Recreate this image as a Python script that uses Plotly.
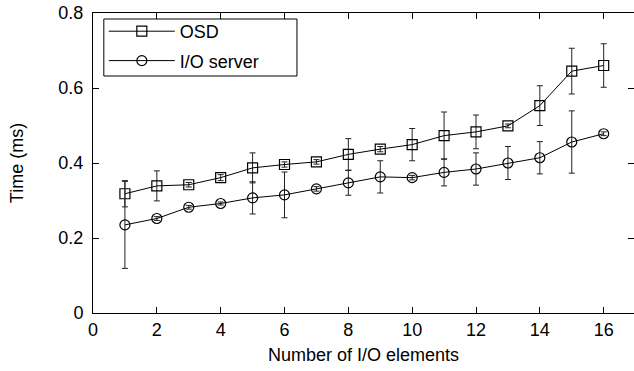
import plotly.graph_objects as go

n_elements = list(range(1, 17))
osd_time = [0.318, 0.339, 0.342, 0.361, 0.387, 0.396, 0.403, 0.423,
            0.437, 0.449, 0.473, 0.483, 0.499, 0.553, 0.645, 0.660]
osd_err = [0.035, 0.040, 0.006, 0.008, 0.040, 0.007, 0.006, 0.042,
           0.007, 0.043, 0.063, 0.045, 0.005, 0.053, 0.061, 0.058]
io_time = [0.235, 0.252, 0.282, 0.292, 0.307, 0.315, 0.331, 0.347,
           0.363, 0.361, 0.375, 0.384, 0.400, 0.414, 0.456, 0.478]
io_err = [0.116, 0.005, 0.005, 0.004, 0.043, 0.061, 0.006, 0.033,
          0.043, 0.006, 0.036, 0.043, 0.044, 0.043, 0.083, 0.005]
x_ticks = [0, 2, 4, 6, 8, 10, 12, 14, 16]
y_ticks = [0, 0.2, 0.4, 0.6, 0.8]

FONT = "Liberation Sans, Arial, Helvetica, sans-serif"
FS = 18

fig = go.Figure()
fig.add_trace(go.Scatter(
    x=n_elements, y=osd_time, name="OSD", mode="lines+markers", legendgroup="a",
    line=dict(color="black", width=1),
    marker=dict(symbol="square-open", size=10, color="black", line=dict(width=1.2)),
    error_y=dict(type="data", array=osd_err, visible=True, color="#222", thickness=1, width=3),
))
fig.add_trace(go.Scatter(
    x=n_elements, y=io_time, name="I/O server", mode="lines+markers", legendgroup="b",
    line=dict(color="black", width=1),
    marker=dict(symbol="circle-open", size=10, color="black", line=dict(width=1.2)),
    error_y=dict(type="data", array=io_err, visible=True, color="#222", thickness=1, width=3),
))
# invisible trace to carry right-side mirrored ticks (no border line on the right)
fig.add_trace(go.Scatter(x=[None], y=[None], yaxis="y2", showlegend=False, hoverinfo="skip"))

fig.update_layout(
    width=634, height=371,
    margin=dict(l=93, r=0, t=13, b=58),
    paper_bgcolor="white", plot_bgcolor="white",
    font=dict(family=FONT, size=FS, color="black"),
    xaxis=dict(
        range=[0, 16.95], tickvals=x_ticks, ticktext=[str(v) for v in x_ticks],
        ticks="inside", ticklen=6, tickcolor="black", tickwidth=1,
        showline=True, linecolor="black", linewidth=1, mirror="ticks",
        showgrid=False, zeroline=False,
        title=dict(text="Number of I/O elements", font=dict(size=FS), standoff=9),
    ),
    yaxis=dict(
        range=[0, 0.8], tickvals=y_ticks, ticktext=["0", "0.2", "0.4", "0.6", "0.8"],
        ticks="inside", ticklen=6, tickcolor="black", tickwidth=1,
        showline=True, linecolor="black", linewidth=1, mirror=False,
        showgrid=False, zeroline=False, ticklabelstandoff=5,
        title=dict(text="Time (ms)", font=dict(size=FS), standoff=30),
    ),
    yaxis2=dict(
        overlaying="y", side="right", matches="y", range=[0, 0.8], tickvals=y_ticks,
        ticks="inside", ticklen=6, tickcolor="black", tickwidth=1,
        showticklabels=False, showline=False, showgrid=False, zeroline=False,
    ),
    legend=dict(
        x=0.02, y=1.0, xanchor="left", yanchor="top",
        borderwidth=0, bgcolor="rgba(0,0,0,0)",
        font=dict(family=FONT, size=FS), itemwidth=66, tracegroupgap=3,
    ),
    shapes=[dict(
        type="rect", xref="paper", yref="paper",
        x0=0.02, x1=0.377, y0=0.79, y1=0.98,
        line=dict(color="black", width=1), fillcolor="rgba(0,0,0,0)", layer="above",
    )],
    showlegend=True,
)

fig.write_html("out.html")
